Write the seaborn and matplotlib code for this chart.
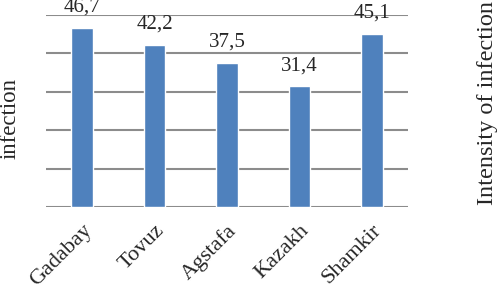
import matplotlib
matplotlib.use("Agg")
import matplotlib.pyplot as plt
import seaborn as sns
import pandas as pd

districts = ["Gadabay", "Tovuz", "Agstafa", "Kazakh", "Shamkir"]
intensity = [46.7, 42.2, 37.5, 31.4, 45.1]
value_labels = ["46,7", "42,2", "37,5", "31,4", "45,1"]

df = pd.DataFrame({"district": districts, "intensity": intensity})

sns.set_style("white")
plt.rcParams["font.family"] = ["Liberation Serif", "DejaVu Serif"]

fig = plt.figure(figsize=(5, 2.89), dpi=100)
ax = fig.add_axes([0.092, 0.284, 0.724, 0.664])

sns.barplot(data=df, x="district", y="intensity", color="#4F81BD",
            saturation=1, width=0.3, ax=ax)

ax.set_ylim(0, 50)
ax.set_yticks(range(0, 51, 10))
ax.set_yticklabels([])
ax.tick_params(axis="y", length=0)
ax.tick_params(axis="x", length=0, pad=10)
ax.yaxis.grid(True, color="#8c8c8c", linewidth=1.5)
ax.set_axisbelow(True)
for s in ax.spines.values():
    s.set_visible(False)

for i, (v, lab) in enumerate(zip(intensity, value_labels)):
    ax.annotate(lab, (i, v), xytext=(0, 8), textcoords="offset points",
                ha="center", va="bottom", fontsize=15)

ax.set_xticks(range(len(districts)))
ax.set_xticklabels(districts, rotation=45, ha="right", rotation_mode="anchor",
                   fontsize=16)
ax.set_xlabel("")
ax.set_ylabel("")

fig.text(0.0, 0.59, "infection", rotation=90, ha="left", va="center", fontsize=16.5)
fig.text(0.953, 0.642, "Intensity of infection", rotation=90, ha="left",
         va="center", fontsize=17.5)

fig.savefig("out.png", dpi=100)
